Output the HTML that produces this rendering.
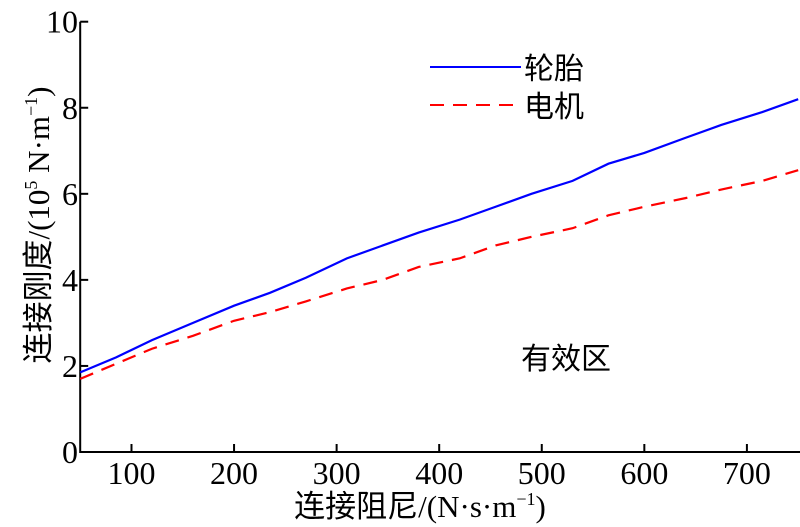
<!DOCTYPE html>
<html><head><meta charset="utf-8"><style>
html,body{margin:0;padding:0;background:#fff;}
svg{display:block;}
text{font-family:"Liberation Serif","Noto Serif CJK SC",serif;fill:#000;}
.cjk{font-family:"Liberation Serif","Noto Sans CJK SC",sans-serif;}
</style></head><body>
<svg id="chart" width="800" height="527" xmlns="http://www.w3.org/2000/svg">
<g id="axes"></g>
<g id="series"></g>
<g>
<line x1="430" y1="67" x2="521" y2="67" stroke="#0000ff" stroke-width="2"/>
<text x="524" y="79" font-size="30" class="cjk">轮胎</text>
<line x1="430" y1="105" x2="521" y2="105" stroke="#ff0000" stroke-width="2" stroke-dasharray="14,9"/>
<text x="524" y="117" font-size="30" class="cjk">电机</text>
</g>
<text x="521" y="369" font-size="30" class="cjk">有效区</text>
<text x="420" y="517" font-size="31" text-anchor="middle" class="cjk">连接阻尼/(N·s·m<tspan dy="-12" font-size="18">−1</tspan><tspan dy="12">)</tspan></text>
<text transform="translate(49,225) rotate(-90)" font-size="31" text-anchor="middle" class="cjk">连接刚度/(10<tspan dy="-12" font-size="18">5</tspan><tspan dy="12"> N·m</tspan><tspan dy="-12" font-size="18">−1</tspan><tspan dy="12">)</tspan></text>
</svg>
<script>
const xs=[50,85,120,160,200,235,270,310,345,380,420,455,490,530,565,600,640,675,715,750];
const tireValues=[1.85,2.2,2.6,3.0,3.4,3.7,4.05,4.5,4.8,5.1,5.4,5.7,6.0,6.3,6.7,6.95,7.3,7.6,7.9,8.2];
const motorValues=[1.7,2.05,2.4,2.7,3.05,3.25,3.5,3.8,4.0,4.3,4.5,4.8,5.0,5.2,5.5,5.7,5.9,6.1,6.3,6.55];
const xTicks=[100,200,300,400,500,600,700];
const yTicks=[0,2,4,6,8,10];
const NS="http://www.w3.org/2000/svg";
const X=v=>80.2+(v-50)*1.0257;
const Y=v=>452-v*43.03;
const axes=document.getElementById('axes');
function mk(tag,attrs,parent){const e=document.createElementNS(NS,tag);for(const k in attrs)e.setAttribute(k,attrs[k]);parent.appendChild(e);return e;}
let a=mk('path',{d:`M${X(50)},${Y(10)} V${Y(0)} H800`,fill:'none',stroke:'#000','stroke-width':2},axes);


xTicks.forEach(t=>{
 let l=mk('line',{x1:X(t),x2:X(t),y1:Y(0),y2:Y(0)-8,stroke:'#000','stroke-width':2},axes);
 
 
 let tx=mk('text',{x:X(t),y:484,'font-size':32,'text-anchor':'middle'},axes);tx.textContent=t;
 
 
});
yTicks.forEach(t=>{
 let l=mk('line',{x1:X(50),x2:X(50)+8,y1:Y(t),y2:Y(t),stroke:'#000','stroke-width':2},axes);
 
 
 let tx=mk('text',{x:78,y:Y(t)+11,'font-size':32,'text-anchor':'end'},axes);tx.textContent=t;
 
 
});
const s=document.getElementById('series');
let p1=mk('polyline',{points:xs.map((x,i)=>X(x)+','+Y(tireValues[i])).join(' '),fill:'none',stroke:'#0000ff','stroke-width':2.2},s);


let p2=mk('polyline',{points:xs.map((x,i)=>X(x)+','+Y(motorValues[i])).join(' '),fill:'none',stroke:'#ff0000','stroke-width':2.2,'stroke-dasharray':'14,9'},s);


</script>
</body></html>
